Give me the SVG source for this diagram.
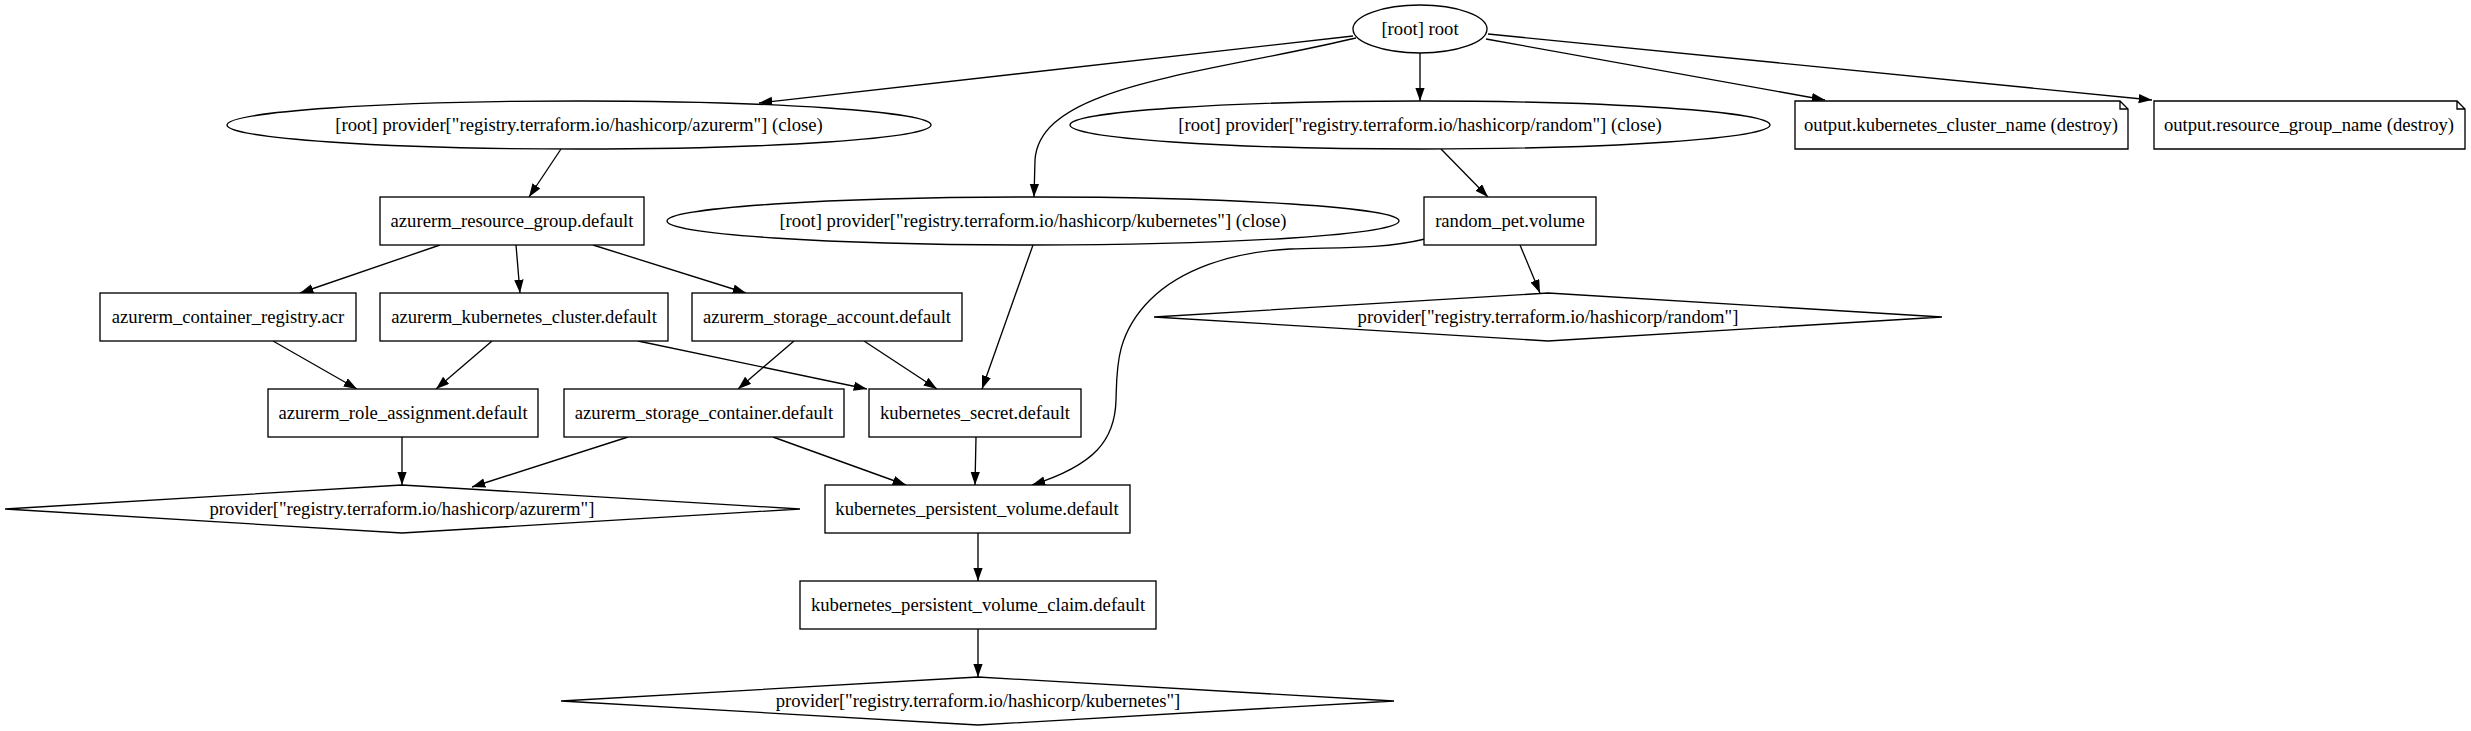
<svg xmlns="http://www.w3.org/2000/svg" width="2471" height="731" viewBox="0 0 2471 731">
<style>
.n{fill:#fff;stroke:#000;stroke-width:1.33}
.t{font-family:"Liberation Serif","Times New Roman",serif;font-size:18.67px;text-anchor:middle;fill:#000}
.e{fill:none;stroke:#000;stroke-width:1.33;marker-end:url(#a)}
</style>
<defs>
<marker id="a" markerWidth="14" markerHeight="10" refX="13.3" refY="4.7" orient="auto" markerUnits="userSpaceOnUse"><path d="M0,0 L13.3,4.7 L0,9.4 z" fill="#000"/></marker>
</defs>
<rect width="2471" height="731" fill="#fff"/>
<g id="edges">
<path class="e" d="M1353,36 L759,103"/>
<path class="e" d="M1356,38 C1200,75 1040,85 1035,160 L1034,197"/>
<path class="e" d="M1420,53 L1420,101"/>
<path class="e" d="M1486,39 L1825,100"/>
<path class="e" d="M1488,34 L2152,100"/>
<path class="e" d="M561,149 L529,197"/>
<path class="e" d="M1441,149 L1488,197"/>
<path class="e" d="M1520,245 L1540,293"/>
<path class="e" d="M1425,239 C1380,250 1330,247 1290,249 C1230,252 1180,270 1150,300 C1115,335 1117,370 1116,400 C1115,440 1095,465 1032,485"/>
<path class="e" d="M1033,245 L982,389"/>
<path class="e" d="M440,245 L300,293"/>
<path class="e" d="M516,245 L520,293"/>
<path class="e" d="M593,245 L746,293"/>
<path class="e" d="M273,341 L357,389"/>
<path class="e" d="M492,341 L436,389"/>
<path class="e" d="M638,341 L867,389"/>
<path class="e" d="M794,341 L738,389"/>
<path class="e" d="M864,341 L937,389"/>
<path class="e" d="M402,437 L402,485"/>
<path class="e" d="M628,437 L472,487"/>
<path class="e" d="M773,437 L906,485"/>
<path class="e" d="M976,437 L975,485"/>
<path class="e" d="M978,533 L978,581"/>
<path class="e" d="M978,629 L978,677"/>
</g>
<g id="root"><ellipse class="n" cx="1420" cy="29" rx="67" ry="24"/><text class="t" x="1420" y="35">[root] root</text></g>
<g id="prov_azurerm_close"><ellipse class="n" cx="579" cy="125" rx="352" ry="24"/><text class="t" x="579" y="131">[root] provider["registry.terraform.io/hashicorp/azurerm"] (close)</text></g>
<g id="prov_random_close"><ellipse class="n" cx="1420" cy="125" rx="350" ry="24"/><text class="t" x="1420" y="131">[root] provider["registry.terraform.io/hashicorp/random"] (close)</text></g>
<g id="prov_k8s_close"><ellipse class="n" cx="1033" cy="221" rx="366" ry="24"/><text class="t" x="1033" y="227">[root] provider["registry.terraform.io/hashicorp/kubernetes"] (close)</text></g>
<g id="out_cluster"><path class="n" d="M1795,101 L2120,101 L2128,109 L2128,149 L1795,149 Z M2120,101 L2120,109 L2128,109"/><text class="t" x="1961" y="131">output.kubernetes_cluster_name (destroy)</text></g>
<g id="out_rg"><path class="n" d="M2154,101 L2457,101 L2465,109 L2465,149 L2154,149 Z M2457,101 L2457,109 L2465,109"/><text class="t" x="2309" y="131">output.resource_group_name (destroy)</text></g>
<g id="rg"><rect class="n" x="380" y="197" width="264" height="48"/><text class="t" x="512" y="227">azurerm_resource_group.default</text></g>
<g id="pet"><rect class="n" x="1424" y="197" width="172" height="48"/><text class="t" x="1510" y="227">random_pet.volume</text></g>
<g id="acr"><rect class="n" x="100" y="293" width="256" height="48"/><text class="t" x="228" y="323">azurerm_container_registry.acr</text></g>
<g id="aks"><rect class="n" x="380" y="293" width="288" height="48"/><text class="t" x="524" y="323">azurerm_kubernetes_cluster.default</text></g>
<g id="sa"><rect class="n" x="692" y="293" width="270" height="48"/><text class="t" x="827" y="323">azurerm_storage_account.default</text></g>
<g id="prov_random"><polygon class="n" points="1154,317 1548,293 1942,317 1548,341"/><text class="t" x="1548" y="323">provider["registry.terraform.io/hashicorp/random"]</text></g>
<g id="role"><rect class="n" x="268" y="389" width="270" height="48"/><text class="t" x="403" y="419">azurerm_role_assignment.default</text></g>
<g id="sc"><rect class="n" x="564" y="389" width="280" height="48"/><text class="t" x="704" y="419">azurerm_storage_container.default</text></g>
<g id="secret"><rect class="n" x="869" y="389" width="212" height="48"/><text class="t" x="975" y="419">kubernetes_secret.default</text></g>
<g id="prov_azurerm"><polygon class="n" points="5,509 402,485 800,509 402,533"/><text class="t" x="402" y="515">provider["registry.terraform.io/hashicorp/azurerm"]</text></g>
<g id="pv"><rect class="n" x="825" y="485" width="305" height="48"/><text class="t" x="977" y="515">kubernetes_persistent_volume.default</text></g>
<g id="pvc"><rect class="n" x="800" y="581" width="356" height="48"/><text class="t" x="978" y="611">kubernetes_persistent_volume_claim.default</text></g>
<g id="prov_k8s"><polygon class="n" points="561,701 978,677 1394,701 978,725"/><text class="t" x="978" y="707">provider["registry.terraform.io/hashicorp/kubernetes"]</text></g>
</svg>
